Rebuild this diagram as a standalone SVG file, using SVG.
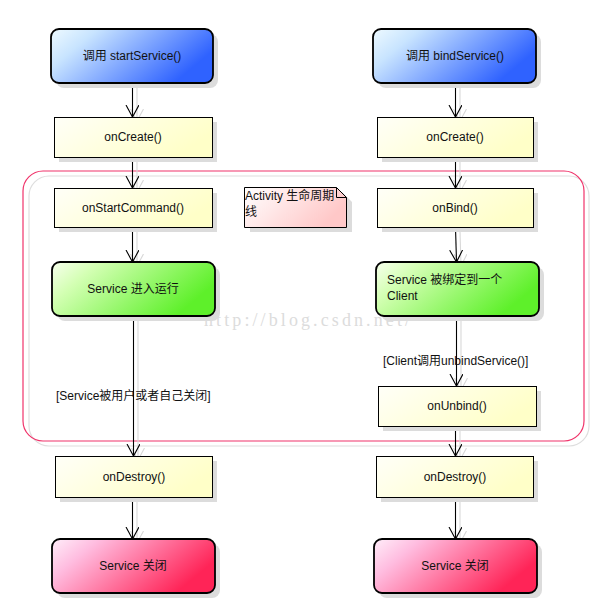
<svg xmlns="http://www.w3.org/2000/svg" width="596" height="616" viewBox="0 0 596 616">
<style>
text{font-family:"Liberation Sans","Noto Sans CJK SC",sans-serif;font-size:12px;fill:#111}
.c{text-anchor:middle}
.sh{fill:#dcdcdc}
.box{stroke:#000;stroke-width:1}
.rnd{stroke:#000;stroke-width:1.8}
.ln{stroke:#000;stroke-width:1.1;fill:none;marker-end:url(#ah)}
.lsh{stroke:#d8d8d8;stroke-width:1.1;fill:none;marker-end:url(#ahs)}
.wm{font-family:"Liberation Serif",serif;font-size:18px;fill:#dcdcdc}
</style>
<defs>
<linearGradient id="gb" x1="0" y1="0" x2="1" y2="0.4"><stop offset="0" stop-color="#eefaff"/><stop offset="0.25" stop-color="#c8e4ff"/><stop offset="1" stop-color="#2f62ff"/></linearGradient>
<linearGradient id="gg" x1="0" y1="0" x2="1" y2="0.4"><stop offset="0" stop-color="#f8ffee"/><stop offset="0.25" stop-color="#d4ffb4"/><stop offset="1" stop-color="#5ef02a"/></linearGradient>
<linearGradient id="gp" x1="0" y1="0" x2="1" y2="0.4"><stop offset="0" stop-color="#ffeefa"/><stop offset="0.25" stop-color="#ffbde0"/><stop offset="1" stop-color="#ff2457"/></linearGradient>
<linearGradient id="gy" x1="0" y1="0" x2="1" y2="0.4"><stop offset="0" stop-color="#fffff8"/><stop offset="1" stop-color="#ffffc8"/></linearGradient>
<linearGradient id="gn" x1="0" y1="0" x2="1" y2="0.4"><stop offset="0" stop-color="#ffffff"/><stop offset="1" stop-color="#ffc8c8"/></linearGradient>
<marker id="ah" markerWidth="14" markerHeight="14" refX="12" refY="6.5" orient="auto" markerUnits="userSpaceOnUse"><path d="M0,0 L12,6.5 L0,13" fill="none" stroke="#000" stroke-width="1.1"/></marker>
<marker id="ahs" markerWidth="14" markerHeight="14" refX="12" refY="6.5" orient="auto" markerUnits="userSpaceOnUse"><path d="M0,0 L12,6.5 L0,13" fill="none" stroke="#d8d8d8" stroke-width="1.1"/></marker>
</defs>
<rect width="596" height="616" fill="#fff"/>

<g id="frame">
<rect x="29" y="176" width="560" height="270" rx="20" fill="none" stroke="#dedede" stroke-width="1.2"/>
<rect x="23" y="171" width="561" height="270" rx="20" fill="none" stroke="#f0336a" stroke-width="1.2"/>
</g>

<text class="wm" x="204" y="326" textLength="206">http://blog.csdn.net/</text>

<g id="connectors">
<line class="lsh" x1="137" y1="87" x2="137" y2="121"/>
<line class="lsh" x1="137" y1="161" x2="137" y2="192"/>
<line class="lsh" x1="137" y1="231" x2="137" y2="266"/>
<line class="lsh" x1="138" y1="320" x2="138" y2="460"/>
<line class="lsh" x1="137" y1="501" x2="137" y2="543"/>
<line class="lsh" x1="460" y1="87" x2="460" y2="121"/>
<line class="lsh" x1="460" y1="161" x2="460" y2="192"/>
<line class="lsh" x1="460" y1="231" x2="461" y2="266"/>
<line class="lsh" x1="461" y1="320" x2="461" y2="390"/>
<line class="lsh" x1="460" y1="430" x2="460" y2="460"/>
<line class="lsh" x1="460" y1="501" x2="460" y2="543"/>

<line class="ln" x1="132.5" y1="83" x2="132.5" y2="117"/>
<line class="ln" x1="132.5" y1="157" x2="132.5" y2="188"/>
<line class="ln" x1="132.5" y1="227" x2="132.5" y2="262"/>
<line class="ln" x1="133.5" y1="316" x2="133.5" y2="456"/>
<line class="ln" x1="132.5" y1="497" x2="132.5" y2="539"/>
<line class="ln" x1="455.5" y1="83" x2="455.5" y2="117"/>
<line class="ln" x1="455.5" y1="157" x2="455.5" y2="188"/>
<line class="ln" x1="455.5" y1="227" x2="456.5" y2="262"/>
<line class="ln" x1="456.5" y1="316" x2="456.5" y2="386"/>
<line class="ln" x1="455.5" y1="426" x2="455.5" y2="456"/>
<line class="ln" x1="455.5" y1="497" x2="455.5" y2="539"/>
<text x="56" y="400">[Service被用户或者自己关闭]</text>
<text x="383" y="365">[Client调用unbindService()]</text>
</g>

<g id="startService">
<rect class="sh" x="56" y="34" width="162" height="54" rx="8"/>
<rect class="rnd" x="51" y="29" width="162" height="54" rx="8" fill="url(#gb)"/>
<text class="c" x="132" y="60">调用 startService()</text>
</g>
<g id="bindService">
<rect class="sh" x="378" y="34" width="163" height="54" rx="8"/>
<rect class="rnd" x="373" y="29" width="163" height="54" rx="8" fill="url(#gb)"/>
<text class="c" x="455" y="60">调用 bindService()</text>
</g>

<g id="onCreateL">
<rect class="sh" x="59" y="122" width="158" height="40"/>
<rect class="box" x="54.5" y="117.5" width="158" height="40" fill="url(#gy)"/>
<text class="c" x="133" y="141">onCreate()</text>
</g>
<g id="onCreateR">
<rect class="sh" x="382" y="122" width="156" height="40"/>
<rect class="box" x="377.5" y="117.5" width="156" height="40" fill="url(#gy)"/>
<text class="c" x="455" y="141">onCreate()</text>
</g>

<g id="onStartCommand">
<rect class="sh" x="59" y="193" width="158" height="39"/>
<rect class="box" x="54.5" y="188.5" width="158" height="39" fill="url(#gy)"/>
<text class="c" x="133" y="212">onStartCommand()</text>
</g>
<g id="onBind">
<rect class="sh" x="382" y="193" width="156" height="39"/>
<rect class="box" x="377.5" y="188.5" width="156" height="39" fill="url(#gy)"/>
<text class="c" x="455" y="212">onBind()</text>
</g>

<g id="note">
<path class="sh" d="M250,192 H342 L352,202 V232 H250 Z"/>
<path class="box" d="M244.5,187.5 H336.5 L346.5,197.5 V227.5 H244.5 Z" fill="url(#gn)"/>
<path d="M336.5,187.5 V197.5 H346.5" fill="none" stroke="#000" stroke-width="1"/>
<text x="245" y="200">Activity 生命周期</text>
<text x="245" y="216">线</text>
</g>

<g id="serviceRunning">
<rect class="sh" x="57" y="267" width="163" height="54" rx="8"/>
<rect class="rnd" x="52" y="262" width="163" height="54" rx="8" fill="url(#gg)"/>
<text class="c" x="133" y="293">Service 进入运行</text>
</g>
<g id="serviceBound">
<rect class="sh" x="381" y="267" width="163" height="54" rx="8"/>
<rect class="rnd" x="376" y="262" width="163" height="54" rx="8" fill="url(#gg)"/>
<text x="387" y="284">Service 被绑定到一个</text>
<text x="387" y="300">Client</text>
</g>

<g id="onUnbind">
<rect class="sh" x="383" y="391" width="158" height="40"/>
<rect class="box" x="378.5" y="386.5" width="158" height="40" fill="url(#gy)"/>
<text class="c" x="457" y="410">onUnbind()</text>
</g>

<g id="onDestroyL">
<rect class="sh" x="60" y="461" width="157" height="41"/>
<rect class="box" x="55.5" y="456.5" width="157" height="41" fill="url(#gy)"/>
<text class="c" x="134" y="481">onDestroy()</text>
</g>
<g id="onDestroyR">
<rect class="sh" x="381" y="461" width="157" height="41"/>
<rect class="box" x="376.5" y="456.5" width="157" height="41" fill="url(#gy)"/>
<text class="c" x="455" y="481">onDestroy()</text>
</g>

<g id="serviceClosedL">
<rect class="sh" x="57" y="544" width="163" height="54" rx="8"/>
<rect class="rnd" x="52" y="539" width="163" height="54" rx="8" fill="url(#gp)"/>
<text class="c" x="133" y="570">Service 关闭</text>
</g>
<g id="serviceClosedR">
<rect class="sh" x="379" y="544" width="163" height="54" rx="8"/>
<rect class="rnd" x="374" y="539" width="163" height="54" rx="8" fill="url(#gp)"/>
<text class="c" x="455" y="570">Service 关闭</text>
</g>
</svg>
